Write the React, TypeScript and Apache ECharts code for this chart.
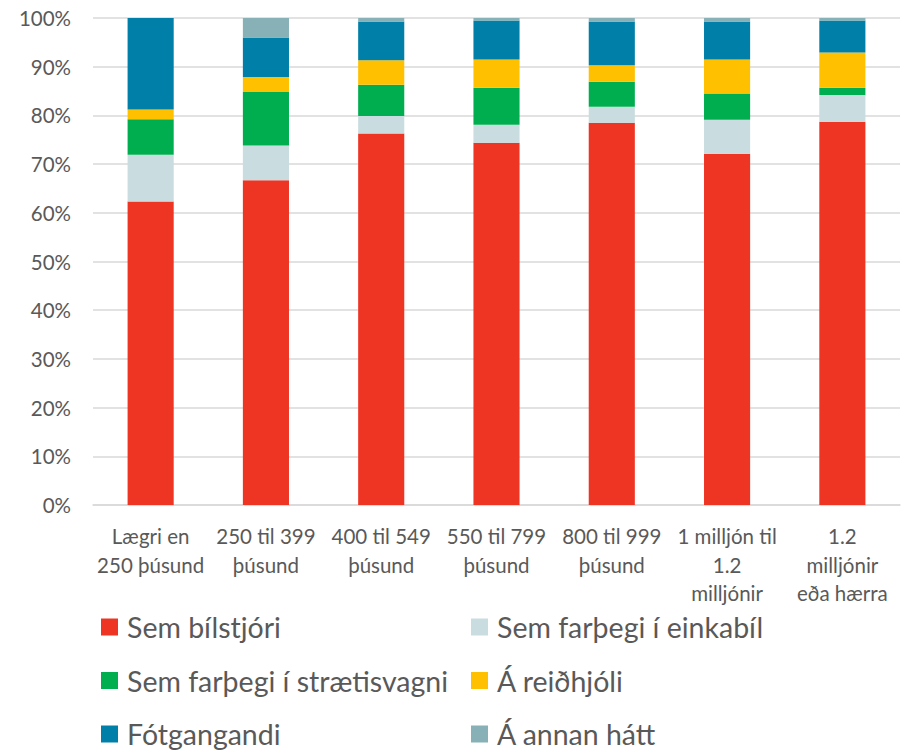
import React, { useEffect, useRef } from "react";
import * as echarts from "echarts";

const categories = [
  "Lægri en\n250 þúsund",
  "250 til 399\nþúsund",
  "400 til 549\nþúsund",
  "550 til 799\nþúsund",
  "800 til 999\nþúsund",
  "1 milljón til\n1.2\nmilljónir",
  "1.2\nmilljónir\neða hærra",
];

const semBilstjori = [62.3, 66.7, 76.3, 74.4, 78.5, 72.1, 78.7];
const semFarthegiEinkabil = [9.6, 7.1, 3.6, 3.7, 3.3, 7.0, 5.5];
const semFarthegiStraeto = [7.3, 11.0, 6.4, 7.6, 5.1, 5.4, 1.5];
const aReidhjoli = [2.0, 3.1, 5.0, 5.8, 3.4, 7.0, 7.2];
const fotgangandi = [18.8, 8.1, 8.0, 8.0, 9.0, 7.8, 6.6];
const aAnnanHatt = [0.0, 4.0, 0.7, 0.6, 0.7, 0.7, 0.5];

const seriesNames = [
  "Sem bílstjóri",
  "Sem farþegi í einkabíl",
  "Sem farþegi í strætisvagni",
  "Á reiðhjóli",
  "Fótgangandi",
  "Á annan hátt",
];
const seriesData = [semBilstjori, semFarthegiEinkabil, semFarthegiStraeto, aReidhjoli, fotgangandi, aAnnanHatt];
const colors = ["#EE3524", "#C9DCDF", "#00AE4F", "#FFC000", "#007FA8", "#88B1B7"];

const FONT = "Lato, 'Open Sans', sans-serif";
const TEXT = "#595959";

export default function App() {
  const ref = useRef<HTMLDivElement>(null);
  useEffect(() => {
    if (!ref.current) return;
    const chart = echarts.init(ref.current, undefined, { renderer: "svg" });
    const legendCommon = {
      orient: "vertical",
      top: 612,
      height: 140,
      padding: 0,
      itemWidth: 17,
      itemHeight: 17,
      itemGap: 23.5,
      icon: "rect",
      textStyle: { fontFamily: FONT, fontSize: 28.5, lineHeight: 30, color: TEXT, padding: [0, 0, 0, 4] },
    };
    chart.setOption({
      animation: false,
      color: colors,
      textStyle: { fontFamily: FONT },
      grid: { left: 93, right: 1, top: 18, bottom: 245, containLabel: false },
      legend: [
        { ...legendCommon, left: 101, data: [seriesNames[0], seriesNames[2], seriesNames[4]] },
        { ...legendCommon, left: 471, data: [seriesNames[1], seriesNames[3], seriesNames[5]] },
      ],
      xAxis: {
        type: "category",
        data: categories,
        axisLine: { show: true, lineStyle: { color: "#d9d9d9", width: 1.5 } },
        axisTick: { show: false },
        axisLabel: {
          fontFamily: FONT,
          fontSize: 20.5,
          color: TEXT,
          lineHeight: 28.5,
          margin: 17,
          interval: 0,
        },
      },
      yAxis: {
        type: "value",
        min: 0,
        max: 100,
        interval: 10,
        axisLine: { show: false },
        axisTick: { show: false },
        splitLine: { lineStyle: { color: "#d9d9d9", width: 1.5 } },
        axisLabel: {
          formatter: "{value}%",
          fontFamily: FONT,
          fontSize: 20.5,
          color: TEXT,
          margin: 22,
        },
      },
      series: seriesNames.map((name, i) => ({
        name,
        type: "bar",
        stack: "total",
        barWidth: "40%",
        data: seriesData[i],
        itemStyle: { color: colors[i] },
      })),
    });
    return () => chart.dispose();
  }, []);
  return (
    <div
      ref={ref}
      style={{ position: "fixed", left: 0, top: 0, width: 901, height: 750, background: "#fff" }}
    />
  );
}
